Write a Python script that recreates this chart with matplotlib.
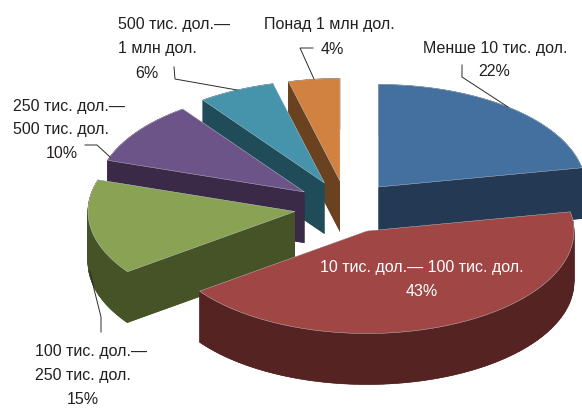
import numpy as np
import matplotlib
matplotlib.use('Agg')
import matplotlib.pyplot as plt
from matplotlib import font_manager

names = set(f.name for f in font_manager.fontManager.ttflist)
font = 'Liberation Sans Narrow' if 'Liberation Sans Narrow' in names else 'Liberation Sans'

# data
shares = [22, 43, 15, 10, 6, 4]
top_colors = ['#44709f', '#a04745', '#89a253', '#6c5488', '#4594ab', '#d28240']
side_colors = ['#233954', '#552322', '#455327', '#3a2a47', '#204c5a', '#6b4220']
# where each slice's point sits once exploded
apex_x = [378.5, 367, 295, 304.5, 324.5, 340]
apex_y = [188, 232, 212.5, 193, 184, 182]

label_lines = [
    ('Менше 10 тис. дол.', 423, 48),
    ('22%', 478, 72),
    ('Понад 1 млн дол.', 264, 25),
    ('4%', 321, 49),
    ('500 тис. дол.—', 118, 24),
    ('1 млн дол.', 118, 49),
    ('6%', 135, 73),
    ('250 тис. дол.—', 13, 106),
    ('500 тис. дол.', 13, 130),
    ('10%', 46, 154),
    ('100 тис. дол.—', 35, 352),
    ('250 тис. дол.', 35, 376),
    ('15%', 67, 400),
]
inside_lines = [
    ('10 тис. дол.— 100 тис. дол.', 422, 268),
    ('43%', 422, 292),
]
leaders = [
    ([462, 462, 508], [66, 78, 108]),
    ([313, 300, 314], [49, 49, 80]),
    ([174, 175, 237], [68, 80, 91]),
    ([85, 97, 110], [146, 146, 158]),
    ([101, 101, 94, 90], [333, 318, 290, 272]),
]

rx, ry, depth = 207, 102.5, 51

fig = plt.figure(figsize=(5.82, 4.10), dpi=100)
ax = fig.add_axes([0, 0, 1, 1])
ax.set_xlim(0, 582)
ax.set_ylim(410, 0)
ax.axis('off')


def arc(cx, cy, a0, a1):
    t = np.radians(np.linspace(a0, a1, 120))
    return cx + rx * np.sin(t), cy - ry * np.cos(t)


edges = np.cumsum([0] + shares) * 3.6
# back slices first, the red one sits in front of everything
for i in [5, 4, 3, 2, 0, 1]:
    cx, cy = apex_x[i], apex_y[i]
    x, y = arc(cx, cy, edges[i], edges[i + 1])
    xs = np.r_[cx, x]
    ys = np.r_[cy, y]
    # walls: same colour, so the order inside one slice doesn't matter
    ax.fill(xs, ys + depth, color=side_colors[i], lw=0)
    # outer wall in small quads, one polygon misses the bit where the arc turns back in x
    for j in range(len(x) - 1):
        ax.fill([x[j], x[j + 1], x[j + 1], x[j]], [y[j], y[j + 1], y[j + 1] + depth, y[j] + depth],
                color=side_colors[i], lw=0.4)
    for k in [0, -1]:
        ax.fill([cx, x[k], x[k], cx], [cy, y[k], y[k] + depth, cy + depth], color=side_colors[i], lw=0)
    ax.fill(xs, ys, facecolor=top_colors[i], edgecolor='#c8d0d8', lw=0.3)

for lx, ly in leaders:
    ax.plot(lx, ly, color='#2b2b2b', lw=0.7, solid_joinstyle='miter')

for s, x, y in label_lines:
    ax.text(x, y, s, ha='left', va='center', family=font, fontsize=11.5, color='#231f20')
for s, x, y in inside_lines:
    ax.text(x, y, s, ha='center', va='center', family=font, fontsize=11.5, color='white')

fig.savefig('out.png', dpi=100)
